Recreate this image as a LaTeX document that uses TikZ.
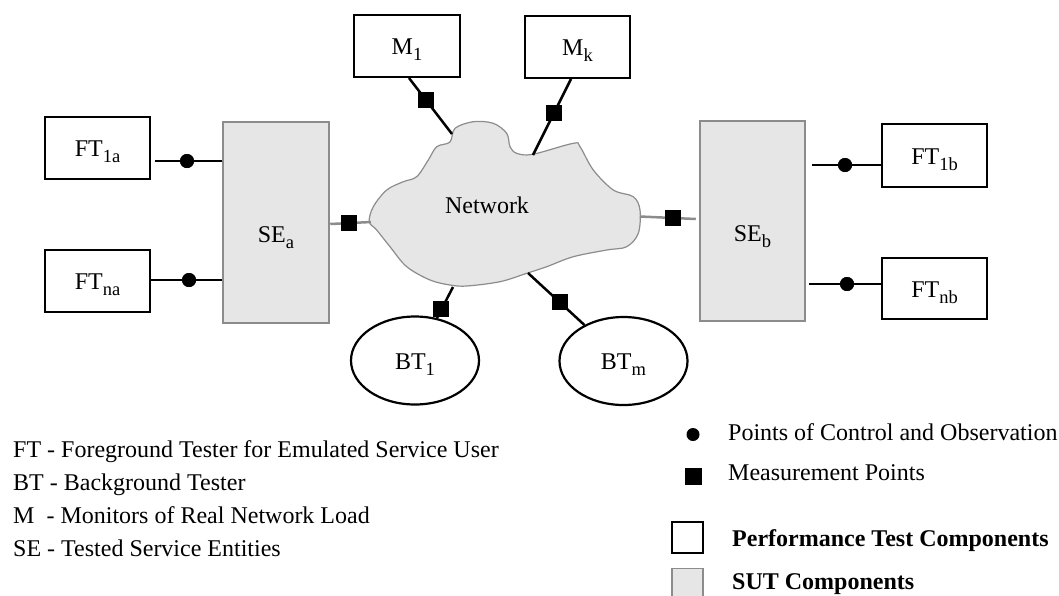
\documentclass[tikz,border=0pt]{standalone}
\usepackage{fontspec}
\setmainfont{Liberation Serif}
\usetikzlibrary{shapes.geometric}
\definecolor{sutfill}{HTML}{E6E6E6}
\definecolor{sutdraw}{HTML}{8C8C8C}
\newcommand{\sbs}[1]{\raisebox{-6pt}{\fontsize{18.5}{18.5}\selectfont #1}}
\begin{document}
\begin{tikzpicture}[x=1pt,y=-1pt,
  every node/.style={font=\fontsize{24}{28}\selectfont},
  ptc/.style={draw=black, line width=2pt, fill=white, minimum width=105pt, minimum height=62pt, inner sep=0pt, text height=17pt, text depth=0pt},
  sut/.style={draw=sutdraw, line width=2.5pt, fill=sutfill, minimum width=105pt, minimum height=200pt, inner sep=0pt, text height=56pt, text depth=16pt},
  btell/.style={ellipse, draw=black, line width=2.2pt, fill=white, minimum width=128pt, minimum height=88pt, inner sep=0pt, text height=17pt, text depth=0pt},
  pco/.style={circle, fill=black, inner sep=0pt, minimum size=14pt},
  mpt/.style={rectangle, fill=black, inner sep=0pt, minimum size=16pt},
  conn/.style={line width=2.5pt, draw=black},
  gconn/.style={line width=2.5pt, draw=sutdraw},
  legtxt/.style={anchor=base west, inner sep=0pt},
]
\useasboundingbox (0,0) rectangle (1059,595);

% cloud
\draw[draw=sutdraw, line width=1.2pt, fill=sutfill] plot[smooth cycle, tension=0.55] coordinates {
(369.3,221.7) (373.3,206.7) (386.7,190) (403.3,181.7) (416.7,176.7) (428.3,160)
(436.7,146.7) (450,142) (455,128.3) (473.3,121.7) (493.3,123.3) (506.7,133.3)
(510,146.7) (516.7,153.3) (532.7,154.3) (573.3,143.3) (580,146.7) (593.3,170)
(613.3,190) (633.3,196.7) (640,210) (638.3,233.3) (626.7,246.7) (606.7,250)
(573.3,256.7) (546.7,266.7) (526.7,273.3) (500,281.7) (466.7,286) (450,285)
(430,280) (406.7,266.7) (390,246.7) (376.7,230)};
\node[inner sep=0pt] (net) at (487,205.5) {Network};
\coordinate (cM1) at (452,134);
\coordinate (cMk) at (533,155);
\coordinate (cL) at (371,222);
\coordinate (cR) at (640,216.5);
\coordinate (cB1) at (453,287);
\coordinate (cBm) at (528,273);

% nodes
\node[ptc, minimum width=106pt] (M1) at (407,46) {M\sbs{1}};
\node[ptc] (Mk) at (577.5,47) {M\sbs{k}};
\node[ptc] (FT1a) at (97.5,148) {FT\sbs{1a}};
\node[ptc] (FTna) at (97.5,281) {FT\sbs{na}};
\node[ptc, minimum height=63pt] (FT1b) at (934.5,155.5) {FT\sbs{1b}};
\node[ptc, minimum height=61pt] (FTnb) at (934.5,288.5) {FT\sbs{nb}};
\node[sut, minimum width=106pt, minimum height=201pt] (SEa) at (276,222.5) {SE\sbs{a}};
\node[sut] (SEb) at (752.5,221) {SE\sbs{b}};
\node[btell] (BT1) at (415,360.5) {BT\sbs{1}};
\node[btell] (BTm) at (623.5,361) {BT\sbs{m}};

% points of control and observation
\node[pco] (d1a) at (187,161) {};
\node[pco] (dna) at (189,280) {};
\node[pco] (d1b) at (845,165) {};
\node[pco] (dnb) at (847,284) {};
\draw[conn] ([xshift=4pt]FT1a.east |- d1a) -- (SEa.west |- d1a);
\draw[conn] (FTna.east |- dna) -- (SEa.west |- dna);
\draw[conn] ([xshift=6pt]SEb.east |- d1b) -- (FT1b.west |- d1b);
\draw[conn] ([xshift=3pt]SEb.east |- dnb) -- (FTnb.west |- dnb);
\node[pco] at (d1a) {};
\node[pco] at (dna) {};
\node[pco] at (d1b) {};
\node[pco] at (dnb) {};

% measurement points
\draw[conn] ([xshift=2pt]M1.south) -- node[mpt, pos=0.4] {} (cM1);
\draw[conn] ([xshift=-6.5pt]Mk.south) -- node[mpt, pos=0.45] {} (cMk);
\draw[gconn] (SEa.east |- 0,224) -- node[mpt, pos=0.45] {} (cL);
\draw[gconn] (cR) -- node[mpt, pos=0.6] {} ([xshift=-3pt]SEb.west |- 0,219);
\draw[conn] (cB1) -- node[mpt, pos=0.72] {} (BT1);
\draw[conn] (cBm) -- node[mpt, pos=0.56] {} (BTm);

% legend left
\node[legtxt] (l1) at (13,457) {FT - Foreground Tester for Emulated Service User};
\node[legtxt] (l2) at (13,490.5) {BT - Background Tester};
\node[legtxt] (l3) at (13,523) {M\hspace{0.5em}- Monitors of Real Network Load};
\node[legtxt] (l4) at (13,556) {SE - Tested Service Entities};

% legend right
\node[pco, minimum size=13pt] (lgd) at (693,434.5) {};
\node[legtxt] (lgdt) at (728,440) {Points of Control and Observation};
\node[mpt, minimum size=17pt] (lgs) at (693,476.5) {};
\node[legtxt] (lgst) at (728,480) {Measurement Points};
\node[draw=black, line width=1.5pt, fill=white, minimum size=31pt, inner sep=0pt] (lgw) at (687.5,537.5) {};
\node[legtxt, font=\fontsize{24}{28}\selectfont\bfseries] (lgwt) at (732,546) {Performance Test Components};
\node[draw=sutdraw, line width=1.5pt, fill=sutfill, minimum size=31pt, inner sep=0pt] (lgg) at (687.5,584) {};
\node[legtxt, font=\fontsize{24}{28}\selectfont\bfseries] (lggt) at (732,589) {SUT Components};
\end{tikzpicture}
\end{document}
